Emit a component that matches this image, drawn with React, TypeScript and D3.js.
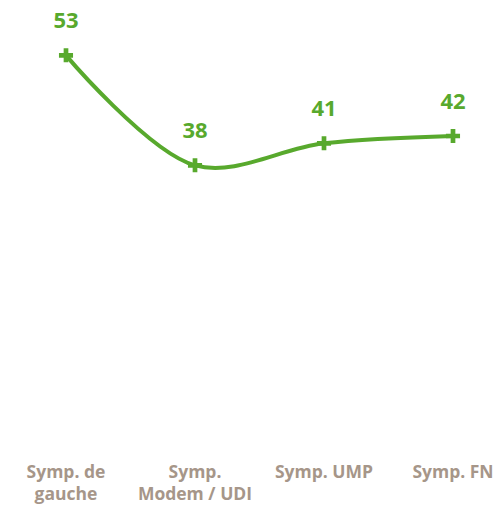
import React, { useEffect, useRef } from 'react';
import * as d3 from 'd3';

const categories = [['Symp. de', 'gauche'], ['Symp.', 'Modem / UDI'], ['Symp. UMP'], ['Symp. FN']];
const values = [53, 38, 41, 42];

export default function App() {
  const svgRef = useRef<SVGSVGElement>(null);
  const width = 498;
  const height = 507;

  useEffect(() => {
    const svg = d3.select(svgRef.current);
    svg.selectAll('*').remove();

    const green = '#58a92d';
    const labelColor = '#a69689';
    const font = "'Open Sans', sans-serif";

    const x = d3.scalePoint<number>().domain(d3.range(values.length)).range([66, 453]);
    const y = d3.scaleLinear().domain([0, 60]).range([444, 4]);

    const line = d3
      .line<number>()
      .x((d, i) => x(i) as number)
      .y(d => y(d))
      .curve(d3.curveCatmullRom.alpha(0.5));

    svg.append('path')
      .datum(values)
      .attr('d', line)
      .style('fill', 'none')
      .style('stroke', green)
      .style('stroke-width', 4);

    svg.selectAll('.marker')
      .data(values)
      .enter()
      .append('path')
      .attr('class', 'marker')
      .attr('transform', (d, i) => `translate(${x(i)},${y(d)})`)
      .attr('d', d3.symbol().type(d3.symbolCross).size(110)())
      .style('fill', green);

    svg.selectAll('.value')
      .data(values)
      .enter()
      .append('text')
      .attr('class', 'value')
      .attr('x', (d, i) => x(i) as number)
      .attr('y', d => y(d) - 27)
      .attr('text-anchor', 'middle')
      .style('font-family', font)
      .style('font-weight', 'bold')
      .style('font-size', '22px')
      .style('fill', green)
      .text(d => d);

    svg.selectAll('.cat')
      .data(categories)
      .enter()
      .append('text')
      .attr('class', 'cat')
      .attr('text-anchor', 'middle')
      .style('font-family', font)
      .style('font-weight', 'bold')
      .style('font-size', '17.5px')
      .style('fill', labelColor)
      .each(function (d, i) {
        const t = d3.select(this);
        d.forEach((s, j) => {
          t.append('tspan')
            .attr('x', x(i) as number)
            .attr('y', 478 + j * 22)
            .text(s);
        });
      });
  }, []);

  return (
    <svg
      ref={svgRef}
      width={width}
      height={height}
      style={{ position: 'absolute', left: 0, top: 0, background: '#fff' }}
    />
  );
}
